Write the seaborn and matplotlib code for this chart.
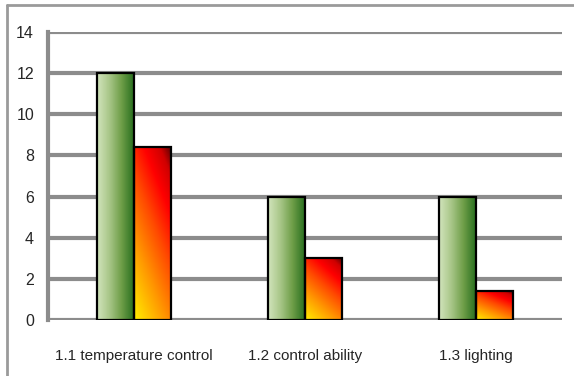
import numpy as np
import pandas as pd
import seaborn as sns
import matplotlib
matplotlib.use("Agg")
import matplotlib.pyplot as plt
from matplotlib.colors import LinearSegmentedColormap
from matplotlib.lines import Line2D

categories = ["1.1 temperature control", "1.2 control ability", "1.3 lighting"]
series_a = [12, 6, 6]
series_b = [8.4, 3, 1.4]
y_ticks = [0, 2, 4, 6, 8, 10, 12, 14]

df = pd.DataFrame({
    "category": categories * 2,
    "value": series_a + series_b,
    "series": ["A"] * 3 + ["B"] * 3,
})

sns.set_style("white")
plt.rcParams["font.family"] = ["Liberation Sans Narrow", "Liberation Sans", "DejaVu Sans"]

W, H = 574, 376
fig = plt.figure(figsize=(W / 100, H / 100), dpi=100)
ax = fig.add_axes([48 / W, (H - 320) / H, (562 - 48) / W, (320 - 32) / H])

sns.barplot(data=df, x="category", y="value", hue="series", ax=ax,
            width=0.43, palette=["#6a9a40", "#ff3000"], edgecolor="black",
            linewidth=1.6, legend=False, zorder=3)

ax.set_ylim(0, 14)
ax.set_xlim(-0.5, 2.5)
ax.set_yticks(y_ticks)
ax.set_yticklabels([str(t) for t in y_ticks], fontsize=11.5)
ax.set_xlabel("")
ax.set_ylabel("")
ax.tick_params(axis="x", labelsize=11, length=0, pad=21)
ax.tick_params(axis="y", length=0, pad=10)

for s in ["top", "right", "bottom"]:
    ax.spines[s].set_visible(False)
ax.spines["left"].set_color("#8c8c8c")
ax.spines["left"].set_linewidth(3)
ax.yaxis.grid(True, color="#8c8c8c", linewidth=3)
ax.set_axisbelow(True)

green_cmap = LinearSegmentedColormap.from_list(
    "g", ["#d2e4bc", "#a8c688", "#6e9e48", "#2a7020"])
red_cmap = LinearSegmentedColormap.from_list(
    "r", [(0.0, "#ffee00"), (0.3, "#ff9800"), (0.55, "#ff4a00"),
          (0.75, "#ff0000"), (0.9, "#d00000"), (1.0, "#600000")])

n = len(categories)
patches = list(ax.patches)
for i, p in enumerate(patches):
    x0, y0 = p.get_x(), p.get_y()
    w, h = p.get_width(), p.get_height()
    if h <= 0:
        continue
    u = np.linspace(0, 1, 64)
    v = np.linspace(0, 1, 128)
    U, V = np.meshgrid(u, v)
    if i < n:
        img = green_cmap(U)
    else:
        img = red_cmap(0.35 * U + 0.65 * V)
    im = ax.imshow(img, extent=(x0, x0 + w, y0, y0 + h), origin="lower",
                   aspect="auto", zorder=3.5, interpolation="bilinear")
    im.set_clip_path(p)
    p.set_facecolor("none")
    p.set_zorder(4)

ax.set_xlim(-0.5, 2.5)
ax.set_ylim(0, 14)

# outer frame: left and top edges only
fig.add_artist(Line2D([7 / W, 7 / W], [0, (H - 5) / H], transform=fig.transFigure,
                      color="#9a9a9a", linewidth=2))
fig.add_artist(Line2D([7 / W, 1], [(H - 5) / H, (H - 5) / H], transform=fig.transFigure,
                      color="#9a9a9a", linewidth=2))

fig.savefig("out.png", dpi=100)
